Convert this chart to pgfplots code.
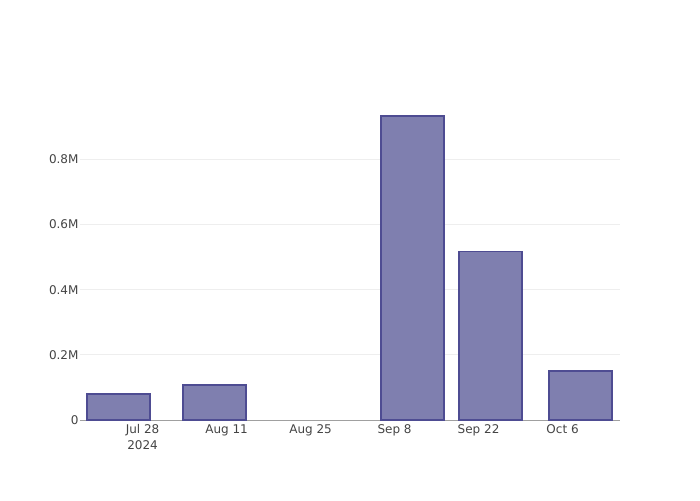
\documentclass[border=0pt]{standalone}
\usepackage{pgfplots}
\pgfplotsset{compat=1.18}
\usepackage{fontspec}
\setmainfont{DejaVu Sans}
\definecolor{barfill}{RGB}{127,127,175}
\definecolor{barline}{RGB}{78,76,146}
\definecolor{gridc}{RGB}{238,238,238}
\definecolor{axisc}{RGB}{160,160,160}
\definecolor{txt}{RGB}{68,68,68}
\begin{document}
\begin{tikzpicture}[x=1pt,y=1pt]
\path[use as bounding box] (-80,-80) rectangle (620,420);
\begin{axis}[
  at={(0,0)}, anchor=south west,
  scale only axis, width=540pt, height=320pt,
  xmin=-10.43, xmax=79.57, ymin=0, ymax=0.982,
  enlargelimits=false,
  axis lines*=left,
  x axis line style={draw=axisc, line width=1pt, -},
  y axis line style={draw=none},
  major tick length=0pt,
  xtick={0,14,28,42,56,70},
  xticklabels={{Jul 28\\2024},Aug 11,Aug 25,Sep 8,Sep 22,Oct 6},
  xticklabel style={align=center, font=\fontsize{12}{16}\selectfont, text=txt, yshift=-1pt},
  ytick={0,0.2,0.4,0.6,0.8},
  yticklabels={0,0.2M,0.4M,0.6M,0.8M},
  yticklabel style={font=\fontsize{12}{14}\selectfont, text=txt, xshift=2pt},
  ymajorgrids, grid style={draw=gridc, line width=1pt},
  ybar, bar width=10.5,
]
\addplot[fill=barfill, draw=barline, line width=1.8pt] coordinates {
  (-4,0.081) (12,0.107) (45,0.933) (58,0.517) (73,0.150)
};
\end{axis}
\end{tikzpicture}
\end{document}
